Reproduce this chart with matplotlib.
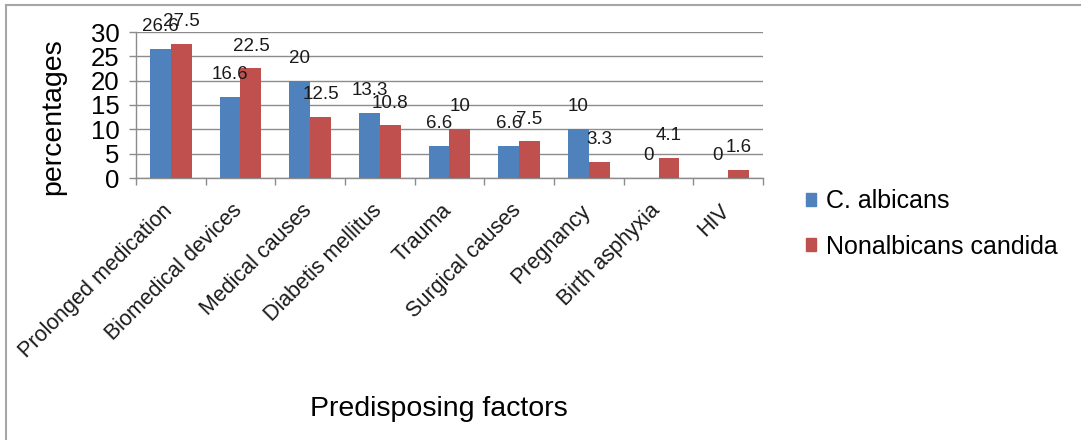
import matplotlib.pyplot as plt
from matplotlib.lines import Line2D
from matplotlib.patches import Patch
import matplotlib.transforms as mtransforms
import numpy as np

plt.rcParams['font.family'] = ['Liberation Sans', 'DejaVu Sans']

factors = ['Prolonged medication', 'Biomedical devices', 'Medical causes',
           'Diabetis mellitus', 'Trauma', 'Surgical causes', 'Pregnancy',
           'Birth asphyxia', 'HIV']
albicans = [26.6, 16.6, 20, 13.3, 6.6, 6.6, 10, 0, 0]
nonalbicans = [27.5, 22.5, 12.5, 10.8, 10, 7.5, 3.3, 4.1, 1.6]
series_names = ['C. albicans', 'Nonalbicans candida']
colors = ['#4F81BD', '#C0504D']
grey = '#8C8C8C'

W, H = 1081, 440
fig = plt.figure(figsize=(W / 100, H / 100), dpi=100)
ax = fig.add_axes([136 / W, 1 - 178 / H, (763 - 136) / W, (178 - 32) / H])

x = np.arange(len(factors))
bw = 0.3
b1 = ax.bar(x - bw / 2, albicans, bw, color=colors[0], zorder=3)
b2 = ax.bar(x + bw / 2, nonalbicans, bw, color=colors[1], zorder=3)

# data labels above each bar
for bars, vals in ((b1, albicans), (b2, nonalbicans)):
    for rect, v in zip(bars, vals):
        ax.annotate(f'{v:g}', (rect.get_x() + rect.get_width() / 2, v),
                    xytext=(0, 10), textcoords='offset points',
                    ha='center', va='bottom', fontsize=13.5, color='#1a1a1a')

ax.set_xlim(-0.5, len(factors) - 0.5)
ax.set_ylim(0, 30)
ax.set_yticks(range(0, 31, 5))
ax.yaxis.grid(True, color=grey, linewidth=1.0, zorder=0)
ax.set_axisbelow(True)

# ticks at category boundaries, labels at centers
ax.set_xticks(np.arange(-0.5, len(factors), 1.0))
ax.set_xticklabels([])
ax.set_xticks(x, minor=True)
ax.set_xticklabels(factors, minor=True, rotation=45, ha='right', va='top',
                   fontsize=15.5, color='#1a1a1a')
ax.tick_params(axis='x', which='minor', length=0, pad=16)
ax.tick_params(axis='x', which='major', length=5, color=grey, width=1)
ax.tick_params(axis='y', length=5, color=grey, width=1, labelsize=18.5, pad=7)
offset = mtransforms.ScaledTranslation(6 / 100, 0, fig.dpi_scale_trans)
for lab in ax.xaxis.get_minorticklabels():
    lab.set_transform(lab.get_transform() + offset)

for s in ('top', 'right'):
    ax.spines[s].set_visible(False)
for s in ('left', 'bottom'):
    ax.spines[s].set_color(grey)
    ax.spines[s].set_linewidth(1.0)

fig.text(53 / W, 1 - 117 / H, 'percentages', rotation=90, ha='center',
         va='center', fontsize=20.5)
fig.text(439 / W, 1 - 409 / H, 'Predisposing factors', ha='center',
         va='center', fontsize=20.5)

handles = [Patch(color=c) for c in colors]
fig.legend(handles, series_names, loc='center left',
           bbox_to_anchor=(783 / W, 1 - 224 / H), frameon=False,
           fontsize=18, handlelength=0.42, handleheight=0.42,
           handletextpad=0.4, labelspacing=0.85)

# outer chart border (top and left only visible)
fig.add_artist(Line2D([6 / W, 1], [1 - 5 / H, 1 - 5 / H],
                      color='#A6A6A6', linewidth=1.5, transform=fig.transFigure))
fig.add_artist(Line2D([6 / W, 6 / W], [0, 1 - 5 / H],
                      color='#A6A6A6', linewidth=1.5, transform=fig.transFigure))

fig.savefig('out.png', dpi=100)
